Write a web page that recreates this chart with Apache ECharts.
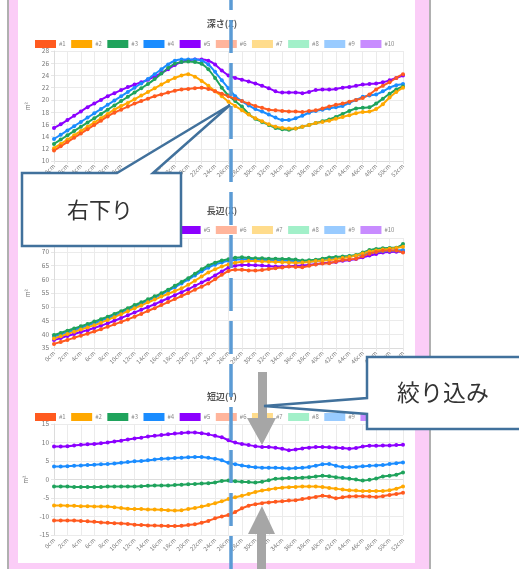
<!DOCTYPE html>
<html><head><meta charset="utf-8">
<script src="https://cdn.jsdelivr.net/npm/echarts@6/dist/echarts.min.js"></script>
<style>html,body{margin:0;padding:0;background:#fff;}#c{width:519px;height:569px;}</style>
</head><body><div id="c"></div>
<script>
const categories = ['0cm','1cm','2cm','3cm','4cm','5cm','6cm','7cm','8cm','9cm','10cm','11cm','12cm','13cm','14cm','15cm','16cm','17cm','18cm','19cm','20cm','21cm','22cm','23cm','24cm','25cm','26cm','27cm','28cm','29cm','30cm','31cm','32cm','33cm','34cm','35cm','36cm','37cm','38cm','39cm','40cm','41cm','42cm','43cm','44cm','45cm','46cm','47cm','48cm','49cm','50cm','51cm','52cm'];
const seriesNames = ['#1','#2','#3','#4','#5','#6','#7','#8','#9','#10'];
const colors = ['#ff5a1f','#ffa800','#1fa35c','#1a8cff','#8c00ff','#ffb59c','#ffdc8c','#a2f0c9','#99cbff','#c88cff'];
const titles = ['深さ(Z)','長辺(X)','短辺(Y)'];
const unitLabel = 'm²';

// 深さ(Z)
const z1 = [11.7,12.4,13.1,13.8,14.5,15.2,15.9,16.6,17.3,17.9,18.4,18.9,19.4,19.8,20.2,20.6,20.9,21.2,21.5,21.7,21.8,21.9,22.0,21.8,21.4,21.0,20.6,20.2,19.8,19.4,19.0,18.7,18.4,18.3,18.2,18.1,18.1,18.0,18.2,18.3,18.6,18.9,19.2,19.4,19.7,20.0,20.3,20.9,21.7,22.3,22.9,23.6,24.2];
const z2 = [12.1,12.8,13.5,14.2,14.9,15.6,16.3,17.0,17.7,18.4,19.0,19.5,20.1,20.7,21.3,21.9,22.5,23.1,23.6,24.0,24.2,23.8,23.1,22.3,21.4,20.6,19.7,19.0,18.3,17.6,17.0,16.5,16.0,15.6,15.4,15.3,15.3,15.6,15.9,16.2,16.4,16.6,16.9,17.2,17.5,17.8,18.0,18.1,18.5,19.3,20.4,21.3,22.0];
const z3 = [12.8,13.5,14.2,14.9,15.6,16.3,17.0,17.7,18.4,19.1,19.8,20.5,21.2,21.9,22.6,23.4,24.3,25.2,25.9,26.2,26.3,26.2,25.9,25.0,23.6,22.0,20.7,19.8,18.9,17.7,16.9,16.4,15.9,15.4,15.2,15.1,15.3,15.6,15.9,16.2,16.5,16.8,17.2,17.7,18.2,18.6,18.7,18.8,19.4,20.2,21.0,21.7,22.2];
const z4 = [13.6,14.3,15.0,15.7,16.4,17.1,17.8,18.5,19.2,19.9,20.6,21.3,22.0,22.7,23.4,24.2,25.0,25.8,26.4,26.6,26.6,26.6,26.4,25.8,24.6,23.2,21.9,20.6,19.8,19.1,18.5,18.1,17.6,17.1,16.7,16.7,17.0,17.4,17.9,18.2,18.4,18.6,18.8,19.0,19.5,20.0,20.5,20.7,20.9,21.4,22.0,22.4,22.6];
const z5 = [15.4,16.0,16.7,17.4,18.1,18.8,19.4,20.0,20.6,21.1,21.6,22.1,22.5,22.9,23.3,23.8,24.4,25.0,25.7,26.2,26.5,26.6,26.6,26.4,25.8,24.8,24.0,23.6,23.3,23.0,22.7,22.3,21.9,21.4,21.2,21.2,21.2,21.1,21.3,21.6,21.7,21.7,21.8,22.0,22.1,22.3,22.5,22.6,22.7,22.9,23.2,23.6,24.0];

// 長辺(X)
const x1 = [36.5,37.2,37.9,38.7,39.5,40.2,41.0,41.8,42.7,43.6,44.5,45.4,46.4,47.4,48.5,49.5,50.6,51.7,52.8,53.9,55.0,56.2,57.3,58.5,60.0,61.6,63.0,63.5,63.5,63.2,63.2,63.4,63.7,64.0,64.3,64.6,64.5,64.4,64.9,65.4,65.7,65.8,66.4,67.0,67.2,67.5,68.4,69.3,69.9,70.4,70.5,70.5,69.7];
const x2 = [38.5,39.3,40.1,40.9,41.7,42.5,43.3,44.2,45.2,46.2,47.3,48.4,49.5,50.5,51.6,52.6,53.7,54.7,55.7,56.7,58.0,59.5,61.0,62.5,63.6,64.6,65.4,66.0,66.4,66.6,66.6,66.5,66.4,66.3,66.2,66.1,66.0,66.1,66.3,66.6,66.8,67.0,67.3,67.7,68.1,68.6,69.4,70.1,70.5,70.8,71.1,71.4,71.8];
const x3 = [39.7,40.5,41.3,42.1,42.9,43.7,44.6,45.5,46.4,47.4,48.4,49.5,50.6,51.6,52.7,53.8,54.9,56.2,57.6,59.0,60.4,62.0,63.6,65.0,66.0,66.8,67.3,67.8,68.0,67.8,67.6,67.6,67.5,67.5,67.4,67.4,67.2,66.8,66.9,67.1,67.5,67.9,68.1,68.3,68.5,68.8,69.7,70.6,71.0,71.3,71.4,71.5,72.8];
const x4 = [39.2,39.9,40.7,41.5,42.3,43.1,44.0,44.9,45.8,46.8,47.8,48.9,50.0,51.1,52.2,53.3,54.5,55.8,57.1,58.5,59.9,61.4,62.9,64.2,65.3,66.1,66.7,67.1,67.3,67.2,67.1,67.0,67.0,66.9,66.8,66.7,66.6,66.4,66.4,66.6,66.9,67.3,67.7,68.0,68.3,68.6,69.0,69.5,69.9,70.2,70.4,70.5,70.6];
const x5 = [37.9,38.6,39.4,40.1,40.8,41.5,42.3,43.1,44.0,44.9,45.9,46.9,47.9,48.9,49.9,50.9,52.0,53.1,54.2,55.3,56.4,57.6,58.8,60.0,61.4,62.8,64.2,64.9,65.2,65.2,65.1,65.0,64.8,64.6,64.6,64.7,64.9,65.0,65.2,65.5,65.8,66.0,66.3,66.7,67.0,67.4,68.0,68.6,69.2,69.7,69.9,70.0,70.0];

// 短辺(Y)
const y1 = [-11.1,-11.1,-11.1,-11.1,-11.2,-11.3,-11.4,-11.6,-11.7,-11.8,-11.9,-12.0,-12.2,-12.3,-12.4,-12.4,-12.5,-12.6,-12.6,-12.5,-12.3,-12.1,-11.7,-11.2,-10.5,-10.0,-9.6,-8.8,-7.8,-7.1,-6.7,-6.4,-6.2,-6.0,-5.9,-5.7,-5.6,-5.3,-5.0,-4.7,-4.4,-4.6,-5.1,-4.8,-4.6,-4.5,-4.5,-4.6,-4.7,-4.5,-4.2,-3.9,-3.6];
const y2 = [-7.0,-7.0,-7.1,-7.1,-7.2,-7.2,-7.3,-7.3,-7.3,-7.5,-7.7,-7.9,-8.0,-8.0,-8.1,-8.1,-8.2,-8.3,-8.4,-8.3,-8.0,-7.7,-7.3,-6.9,-6.4,-5.9,-5.3,-4.8,-4.4,-3.9,-3.4,-3.0,-2.7,-2.4,-2.2,-2.1,-2.0,-1.9,-1.9,-1.9,-2.0,-2.3,-2.5,-2.7,-2.9,-3.0,-3.1,-3.1,-3.1,-3.1,-2.9,-2.5,-1.9];
const y3 = [-1.9,-1.9,-1.9,-2.0,-2.0,-2.0,-2.0,-2.0,-1.9,-1.9,-1.9,-1.9,-1.9,-1.8,-1.7,-1.6,-1.6,-1.6,-1.5,-1.4,-1.3,-1.2,-1.1,-1.0,-0.8,-0.4,-0.3,-0.5,-0.6,-0.7,-0.8,-0.6,-0.2,0.2,0.3,0.4,0.4,0.5,0.6,0.8,1.0,0.9,0.6,0.4,0.2,0.0,-0.3,-0.1,0.3,0.8,1.0,1.3,1.9];
const y4 = [3.5,3.5,3.6,3.7,3.8,3.9,4.0,4.1,4.2,4.3,4.5,4.7,4.9,5.0,5.2,5.4,5.6,5.7,5.8,5.9,6.0,6.1,6.1,5.9,5.6,5.2,4.5,4.1,3.8,3.5,3.3,3.2,3.2,3.2,3.1,3.0,3.1,3.2,3.4,3.7,4.1,4.2,3.7,3.4,3.3,3.4,3.6,3.7,3.8,3.9,4.2,4.4,4.6];
const y5 = [8.9,8.9,9.0,9.2,9.4,9.5,9.6,9.8,10.0,10.3,10.5,10.8,11.1,11.3,11.6,11.8,12.0,12.2,12.4,12.6,12.7,12.7,12.5,12.2,11.8,11.4,10.6,10.0,9.6,9.3,9.0,8.8,8.8,8.6,8.3,7.9,8.1,8.4,8.6,8.8,8.8,8.7,8.6,8.5,8.3,8.5,8.9,9.1,9.1,9.2,9.2,9.3,9.4];

const yMins = [10, 35, -15];
const yMaxs = [28, 75, 15];
const yIntervals = [2, 5, 5];

const chartData = [[z1,z2,z3,z4,z5],[x1,x2,x3,x4,x5],[y1,y2,y3,y4,y5]];

const FONT = '"Noto Sans CJK JP","Noto Sans",sans-serif';
const gridTops = [51, 238, 424];
const gridHeights = [110, 110, 111];
const titleTops = [14, 201, 387];
const legendTops = [35, 221, 408];

const grids = [], xAxes = [], yAxes = [], series = [], titleOpts = [], legends = [];
for (let g = 0; g < 3; g++) {
  grids.push({left: 54, width: 349, top: gridTops[g], height: gridHeights[g]});
  xAxes.push({
    type: 'category', gridIndex: g, data: categories, boundaryGap: false,
    axisLine: {lineStyle: {color: '#dcdcdc'}},
    axisTick: {show: true, interval: 1, length: 3, lineStyle: {color: '#e6e6e6'}},
    axisLabel: {interval: 1, rotate: 45, fontSize: 6, color: '#777', margin: 4, fontFamily: FONT},
    splitLine: {show: true, interval: 1, lineStyle: {color: '#ebebeb', width: 1}}
  });
  yAxes.push({
    type: 'value', gridIndex: g, min: yMins[g], max: yMaxs[g], interval: yIntervals[g],
    name: unitLabel, nameLocation: 'middle', nameGap: 14, nameRotate: 90,
    nameTextStyle: {fontSize: 6, color: '#777', fontFamily: FONT},
    axisLine: {show: true, lineStyle: {color: '#dcdcdc'}},
    axisTick: {show: true, length: 3, lineStyle: {color: '#e6e6e6'}},
    axisLabel: {fontSize: 6.5, color: '#777', margin: 5, fontFamily: FONT, showMaxLabel: true, showMinLabel: true},
    splitLine: {show: true, lineStyle: {color: '#ebebeb', width: 1}}
  });
  titleOpts.push({
    text: titles[g], left: 217, top: titleTops[g], textAlign: 'center',
    textStyle: {fontSize: 9, fontWeight: 'bold', color: '#555', fontFamily: FONT}
  });
  legends.push({
    data: seriesNames, left: 30, top: legendTops[g], itemWidth: 21, itemHeight: 8, itemGap: 5.5,
    icon: 'rect', selectedMode: false,
    textStyle: {fontSize: 6, color: '#888', fontFamily: FONT, padding: [0, 0, 0, -2]}
  });
  for (let k = 9; k >= 0; k--) {
    series.push({
      name: seriesNames[k], type: 'line', xAxisIndex: g, yAxisIndex: g,
      data: chartData[g][k] || [],
      color: colors[k],
      lineStyle: {width: 2, color: colors[k]},
      itemStyle: {color: colors[k]},
      symbol: 'circle', symbolSize: 4, showSymbol: true, showAllSymbol: true,
      smooth: 0.2, animation: false
    });
  }
}

const BOX = '#41719c';
const ARROW = '#a6a6a6';
const graphic = [
  // screenshot frame
  {type: 'rect', z: 50, shape: {x: 7, y: 0, width: 2, height: 569}, style: {fill: '#b0b0b0'}},
  {type: 'rect', z: 50, shape: {x: 9, y: 0, width: 9, height: 569}, style: {fill: '#fbcdf7'}},
  {type: 'rect', z: 50, shape: {x: 415, y: 0, width: 14, height: 569}, style: {fill: '#fbcdf7'}},
  {type: 'rect', z: 50, shape: {x: 429, y: 0, width: 2, height: 569}, style: {fill: '#b0b0b0'}},
  {type: 'rect', z: 50, shape: {x: 9, y: 563, width: 420, height: 6}, style: {fill: '#fbcdf7'}},
  // dashed vertical line
  {type: 'line', z: 60, shape: {x1: 231, y1: 0, x2: 231, y2: 569},
   style: {stroke: '#5b9bd5', lineWidth: 3.5, lineDash: [33, 10], lineDashOffset: 23}},
  // gray arrows
  {type: 'polygon', z: 70, shape: {points: [[258,372],[267,372],[267,418],[276,418],[262,445],[247,418],[258,418]]},
   style: {fill: ARROW}},
  {type: 'polygon', z: 70, shape: {points: [[262,506],[275,534],[266,534],[266,569],[257,569],[257,534],[248,534]]},
   style: {fill: ARROW}},
  // callout 1
  {type: 'polygon', z: 80, shape: {points: [[22,173],[117,173],[230,105],[153,173],[181,173],[181,246],[22,246]]},
   style: {fill: '#fff', stroke: BOX, lineWidth: 2.5, lineJoin: 'miter'}},
  {type: 'text', z: 90, left: 67, top: 199,
   style: {text: '右下り', font: '22px "Noto Sans CJK JP"', fill: '#333'}},
  // callout 2
  {type: 'polygon', z: 80, shape: {points: [[367,357],[530,357],[530,429],[367,429],[367,414],[264,406],[367,398]]},
   style: {fill: '#fff', stroke: BOX, lineWidth: 2.5, lineJoin: 'miter'}},
  {type: 'text', z: 90, left: 397, top: 381,
   style: {text: '絞り込み', font: '23px "Noto Sans CJK JP"', fill: '#333'}}
];

const chart = echarts.init(document.getElementById('c'), null, {renderer: 'canvas'});
chart.setOption({
  backgroundColor: '#fff',
  animation: false,
  title: titleOpts,
  legend: legends,
  grid: grids,
  xAxis: xAxes,
  yAxis: yAxes,
  series: series,
  graphic: graphic
});
</script>
</body></html>
